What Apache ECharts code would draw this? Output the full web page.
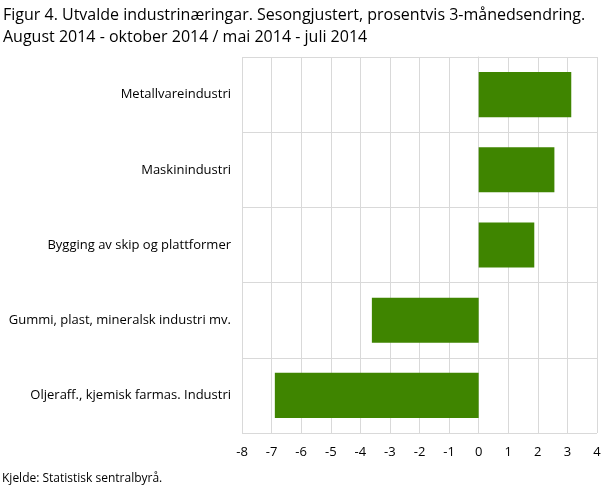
<!DOCTYPE html>
<html>
<head>
<meta charset="utf-8">
<script src="https://cdn.jsdelivr.net/npm/echarts@6/dist/echarts.min.js"></script>
<style>
  html, body { margin: 0; padding: 0; background: #fff; }
  #chart { width: 609px; height: 489px; }
</style>
</head>
<body>
<div id="chart"></div>
<script>
// næringar, frå topp til botn
var categories = [
  'Metallvareindustri',
  'Maskinindustri',
  'Bygging av skip og plattformer',
  'Gummi, plast, mineralsk industri mv.',
  'Oljeraff., kjemisk farmas. Industri'
];
// prosentvis 3-månedsendring
var values = [3.13, 2.56, 1.88, -3.61, -6.89];

var chart = echarts.init(document.getElementById('chart'));

var option = {
  animation: false,
  textStyle: { fontFamily: 'Open Sans' },
  title: [
    {
      text: 'Figur 4. Utvalde industrinæringar. Sesongjustert, prosentvis 3-månedsendring.\nAugust 2014 - oktober 2014 / mai 2014 - juli 2014',
      left: 3,
      top: 4,
      padding: 0,
      textStyle: { fontSize: 16, fontWeight: 'normal', color: '#000', lineHeight: 22, fontFamily: 'Open Sans' }
    },
    {
      text: 'Kjelde: Statistisk sentralbyrå.',
      left: 2,
      top: 473,
      padding: 0,
      textStyle: { fontSize: 12, fontWeight: 'normal', color: '#000', fontFamily: 'Open Sans' }
    }
  ],
  grid: { left: 242, right: 12, top: 57, bottom: 56 },
  xAxis: {
    type: 'value',
    min: -8,
    max: 4,
    interval: 1,
    axisLine: { show: false },
    axisTick: { show: false },
    axisLabel: { color: '#000', fontSize: 13, margin: 13 },
    splitLine: { show: true, lineStyle: { color: '#d9d9d9', width: 1 } }
  },
  yAxis: {
    type: 'category',
    data: categories,
    inverse: true,
    axisLine: { show: true, lineStyle: { color: '#d9d9d9' } },
    axisTick: { show: false },
    axisLabel: { color: '#000', fontSize: 13, margin: 11 },
    splitLine: { show: true, lineStyle: { color: '#d9d9d9', width: 1 } }
  },
  series: [
    {
      type: 'bar',
      data: values,
      barCategoryGap: '40%',
      itemStyle: { color: '#3f8500' }
    }
  ]
};

chart.setOption(option);
</script>
</body>
</html>
